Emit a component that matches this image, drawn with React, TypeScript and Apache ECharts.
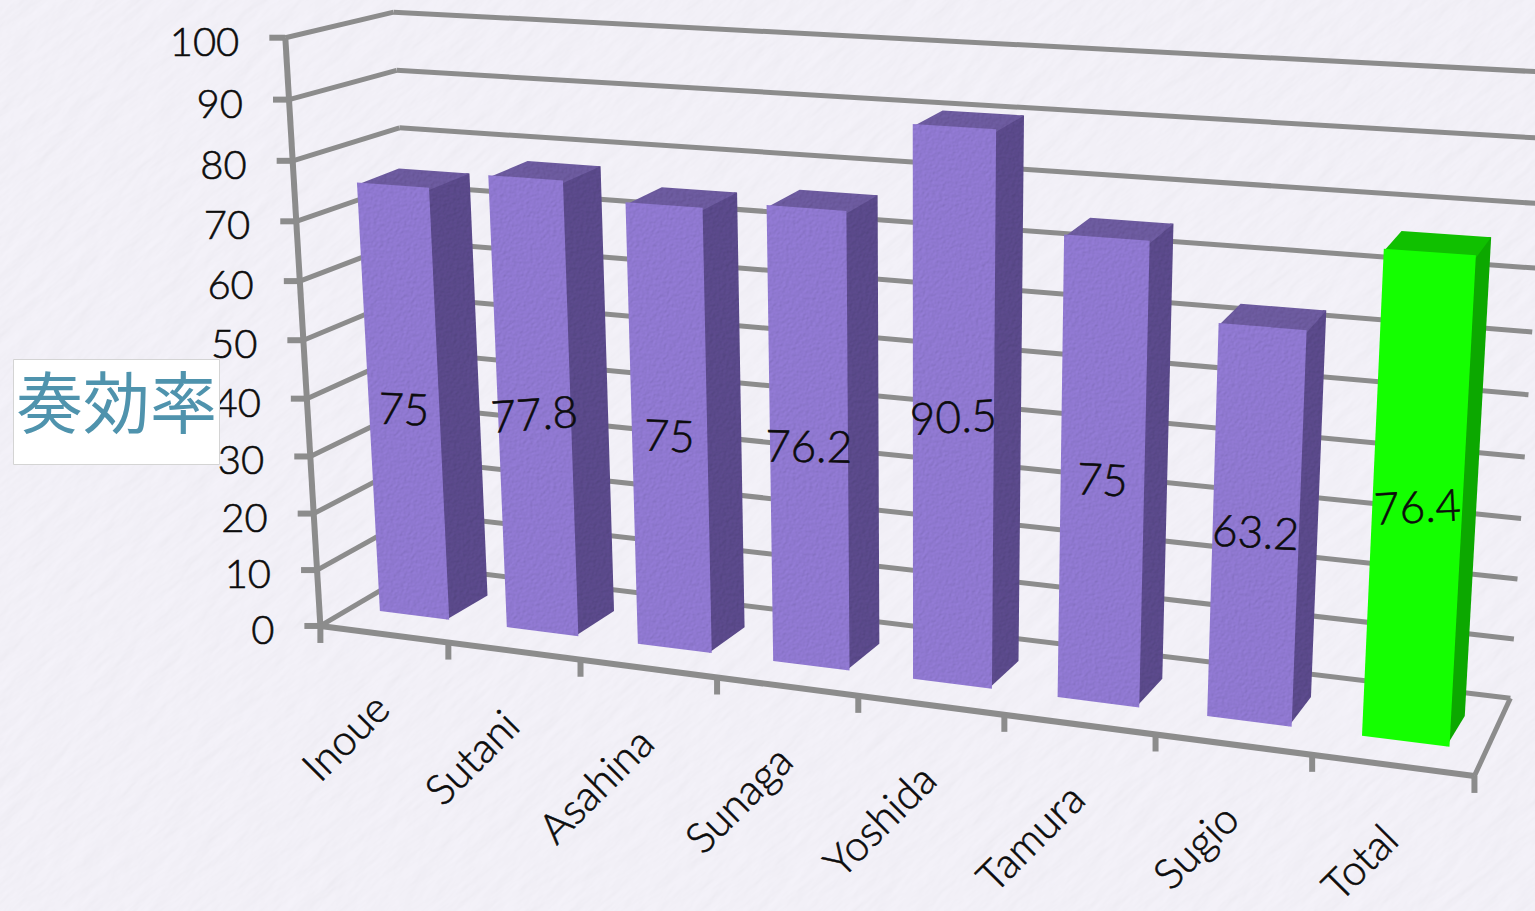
import React, { useEffect, useRef } from "react";
import * as echarts from "echarts";

// Chart content
const players = ["Inoue", "Sutani", "Asahina", "Sunaga", "Yoshida", "Tamura", "Sugio", "Total"];
const successRates = [75, 77.8, 75, 76.2, 90.5, 75, 63.2, 76.4];
const labelTilts = [2, -4, 2, 1, -3, 3, 3, -3];
const valueTicks = [0, 10, 20, 30, 40, 50, 60, 70, 80, 90, 100];
const chartTitle = "奏効率";

const LINE = "#8c8c8c";
const FONT = "Lato, 'Noto Sans', sans-serif";
const INK = { fill: "#0c0c0c", stroke: "#0c0c0c", lineWidth: 0.6 };

// Embossed fill that lights up to the given colour on a flat surface.
function emboss(color: string, freq: string, scale: number, size: number) {
  return (
    "data:image/svg+xml," +
    encodeURIComponent(
      `<svg xmlns='http://www.w3.org/2000/svg' width='${size}' height='${size}'><filter id='p' x='0' y='0' width='100%' height='100%'><feTurbulence type='fractalNoise' baseFrequency='${freq}' numOctaves='3' seed='11' stitchTiles='stitch'/><feDiffuseLighting lighting-color='${color}' surfaceScale='${scale}' diffuseConstant='1.155'><feDistantLight azimuth='45' elevation='60'/></feDiffuseLighting></filter><rect width='${size}' height='${size}' filter='url(#p)'/></svg>`
    )
  );
}
const grain = (color: string) => ({
  image: emboss(color, "0.3", 0.45, 256),
  repeat: "repeat",
  imageWidth: 256,
  imageHeight: 256,
});

const PURPLE = { front: grain("#8f78d0"), top: grain("#6c5a9e"), side: grain("#5a4a8a") };
const GREEN = { front: "#14ff00", top: "#10c000", side: "#0ca800" };

// Plane of the hidden cartesian grid: api.coord results are read back as (u, v).
const GRID = { left: 0, top: 0, width: 800, height: 800 };
const BAR_U = 0.275;
const BAR_W: [number, number] = [0.3, 0.7];

// Camera calibration: floor/wall corners [u, v, w] -> [x, y].
const cameraAnchors: number[][] = [
  [0, 0, 0, 319, 625],
  [2, 0, 0, 580, 660],
  [4, 0, 0, 857, 696],
  [6, 0, 0, 1156, 735],
  [8, 0, 0, 1475, 776],
  [0, 50, 0, 303, 340],
  [0, 100, 0, 288, 38],
  [0, 0, 1, 424, 568],
  [8, 0, 1, 1510, 697],
  [0, 80, 1, 397, 127],
  [0, 100, 1, 393, 12],
  [8, 100, 1, 1548, 73],
];

function solve(A: number[][], b: number[]): number[] {
  const n = b.length;
  const M = A.map((r, i) => [...r, b[i]]);
  for (let c = 0; c < n; c++) {
    let p = c;
    for (let r = c + 1; r < n; r++) if (Math.abs(M[r][c]) > Math.abs(M[p][c])) p = r;
    [M[c], M[p]] = [M[p], M[c]];
    for (let r = 0; r < n; r++) {
      if (r === c) continue;
      const f = M[r][c] / M[c][c];
      for (let k = c; k <= n; k++) M[r][k] -= f * M[c][k];
    }
  }
  return M.map((r, i) => r[n] / r[i]);
}

// Least-squares projective camera through the anchors.
function fitCamera(): number[] {
  const rows: number[][] = [];
  const rhs: number[] = [];
  for (const [u, v, w, x, y] of cameraAnchors) {
    const U = u / 8, V = v / 100, X = x / 1000, Y = y / 1000;
    rows.push([U, V, w, 1, 0, 0, 0, 0, -X * U, -X * V, -X * w]);
    rhs.push(X);
    rows.push([0, 0, 0, 0, U, V, w, 1, -Y * U, -Y * V, -Y * w]);
    rhs.push(Y);
  }
  const N = 11;
  const AtA = Array.from({ length: N }, (_, i) =>
    Array.from({ length: N }, (_, j) => rows.reduce((s, r) => s + r[i] * r[j], 0))
  );
  const Atb = Array.from({ length: N }, (_, i) => rows.reduce((s, r, k) => s + r[i] * rhs[k], 0));
  return solve(AtA, Atb);
}

const cam = fitCamera();
function project(u: number, v: number, w: number): number[] {
  const U = u / 8, V = v / 100;
  const d = cam[8] * U + cam[9] * V + cam[10] * w + 1;
  return [
    (1000 * (cam[0] * U + cam[1] * V + cam[2] * w + cam[3])) / d,
    (1000 * (cam[4] * U + cam[5] * V + cam[6] * w + cam[7])) / d,
  ];
}

// Reads a data point back from the hidden axes as band position and value.
function toPlane(api: any, cat: number, val: number) {
  const [px, py] = api.coord([cat, val]);
  const band = api.size([1, 0])[0];
  return { u: (px - GRID.left) / band, v: (100 * (GRID.top + GRID.height - py)) / GRID.height, band };
}

const stroke = (width: number) => ({ stroke: LINE, lineWidth: width, fill: "none" });
const seg = (a: number[], b: number[], width: number) => ({
  type: "line",
  shape: { x1: a[0], y1: a[1], x2: b[0], y2: b[1] },
  style: stroke(width),
});

function renderWallLine(_: any, api: any) {
  const tick = api.value(1);
  const { v } = toPlane(api, 0, tick);
  const front = project(0, v, 0);
  const corner = project(0, v, 1);
  const far = project(8, v, 1);
  const mark = [front[0] - 16, front[1]];
  const children: any[] = [
    seg(front, corner, 5),
    seg(corner, far, 5),
    seg(mark, front, 6),
    {
      type: "text",
      x: front[0] - 46,
      y: front[1] + 3,
      style: {
        ...INK,
        text: String(tick),
        font: `300 40px ${FONT}`,
        align: "right",
        verticalAlign: "middle",
      },
    },
  ];
  return { type: "group", children };
}

function renderFloorEdges() {
  return {
    type: "group",
    children: [
      seg(project(0, 0, 0), project(0, 100, 0), 6),
      seg(project(0, 0, 0), project(8, 0, 0), 6),
      seg(project(8, 0, 0), project(8, 0, 1), 5),
    ],
  };
}

function renderCategoryTick(params: any, api: any) {
  const { u } = toPlane(api, api.value(0), 0);
  const children: any[] = [];
  const edges = params.dataIndex === players.length - 1 ? [u - 0.5, u + 0.5] : [u - 0.5];
  for (const e of edges) {
    const p = project(e, 0, 0);
    children.push(seg(p, [p[0], p[1] + 17], 6));
  }
  const mid = project(u, 0, 0);
  children.push({
    type: "text",
    x: mid[0] - 3,
    y: mid[1] + 66,
    rotation: Math.PI / 4,
    style: {
      ...INK,
      text: players[params.dataIndex],
      font: `300 42px ${FONT}`,
      align: "right",
      verticalAlign: "middle",
    },
  });
  return { type: "group", children };
}

function renderBar(params: any, api: any) {
  const i = params.dataIndex;
  const value = api.value(1);
  const { u, v } = toPlane(api, api.value(0), value);
  const colors = players[i] === "Total" ? GREEN : PURPLE;
  const [u0, u1] = [u - BAR_U, u + BAR_U];
  const [w0, w1] = BAR_W;
  const tuck = u1 - 0.02; // the side runs slightly under the front and top faces
  const face = (pts: number[][], fill: any) => ({
    type: "polygon",
    shape: { points: pts },
    style: { fill },
  });
  const mid = project(u, v / 2, w0);
  return {
    type: "group",
    children: [
      face(
        [project(tuck, 0, w0), project(u1, 0, w1), project(u1, v, w1), project(tuck, v, w1), project(tuck, v, w0)],
        colors.side
      ),
      face([project(u0, v - 0.4, w0), project(u1, v - 0.4, w0), project(u1, v, w1), project(u0, v, w1)], colors.top),
      face([project(u0, 0, w0), project(u1, 0, w0), project(u1, v, w0), project(u0, v, w0)], colors.front),
      {
        type: "text",
        x: mid[0],
        y: mid[1] + 3,
        rotation: (-labelTilts[i] * Math.PI) / 180,
        style: {
          ...INK,
          text: String(value),
          font: `300 44px ${FONT}`,
          align: "center",
          verticalAlign: "middle",
        },
      },
    ],
  };
}

// Embossed paper behind the chart, with its fibres running diagonally.
const paper =
  "data:image/svg+xml," +
  encodeURIComponent(
    `<svg xmlns='http://www.w3.org/2000/svg' width='1535' height='911'><filter id='p' x='0' y='0' width='100%' height='100%'><feTurbulence type='fractalNoise' baseFrequency='0.02 0.07' numOctaves='4' seed='7'/><feDiffuseLighting lighting-color='#f2f0f7' surfaceScale='0.6' diffuseConstant='1.05'><feDistantLight azimuth='45' elevation='72'/></feDiffuseLighting></filter><g transform='rotate(-38 767 455)'><rect x='-500' y='-700' width='2600' height='2400' filter='url(#p)'/></g></svg>`
  );

export default function App() {
  const ref = useRef<HTMLDivElement>(null);
  useEffect(() => {
    const chart = echarts.init(ref.current!, undefined, { renderer: "svg" });
    chart.setOption({
      animation: false,
      backgroundColor: "transparent",
      title: {
        text: chartTitle,
        left: 13,
        top: 359,
        padding: [4, 3, 32, 3],
        backgroundColor: "#ffffff",
        borderColor: "#d4d4d4",
        borderWidth: 1,
        textStyle: {
          fontFamily: "'Noto Sans CJK JP', sans-serif",
          fontSize: 67,
          fontWeight: "normal",
          color: "#4f93ad",
          lineHeight: 70,
        },
      },
      grid: { ...GRID },
      xAxis: { type: "category", data: players, show: false },
      yAxis: { type: "value", min: 0, max: 100, interval: 10, show: false },
      series: [
        { type: "custom", z: 1, renderItem: renderWallLine, data: valueTicks.map((t) => [0, t]) },
        { type: "custom", z: 1, renderItem: renderFloorEdges, data: [[0, 0]] },
        { type: "custom", z: 1, renderItem: renderCategoryTick, data: players.map((_, i) => [i, 0]) },
        { type: "custom", z: 2, renderItem: renderBar, data: successRates.map((r, i) => [i, r]) },
      ],
    });
    return () => chart.dispose();
  }, []);
  return (
    <div
      style={{
        position: "fixed",
        left: 0,
        top: 0,
        width: 1535,
        height: 911,
        overflow: "hidden",
        backgroundColor: "#f2f0f7",
        backgroundImage: `url("${paper}")`,
      }}
    >
      <div ref={ref} style={{ width: 1535, height: 911 }} />
    </div>
  );
}
